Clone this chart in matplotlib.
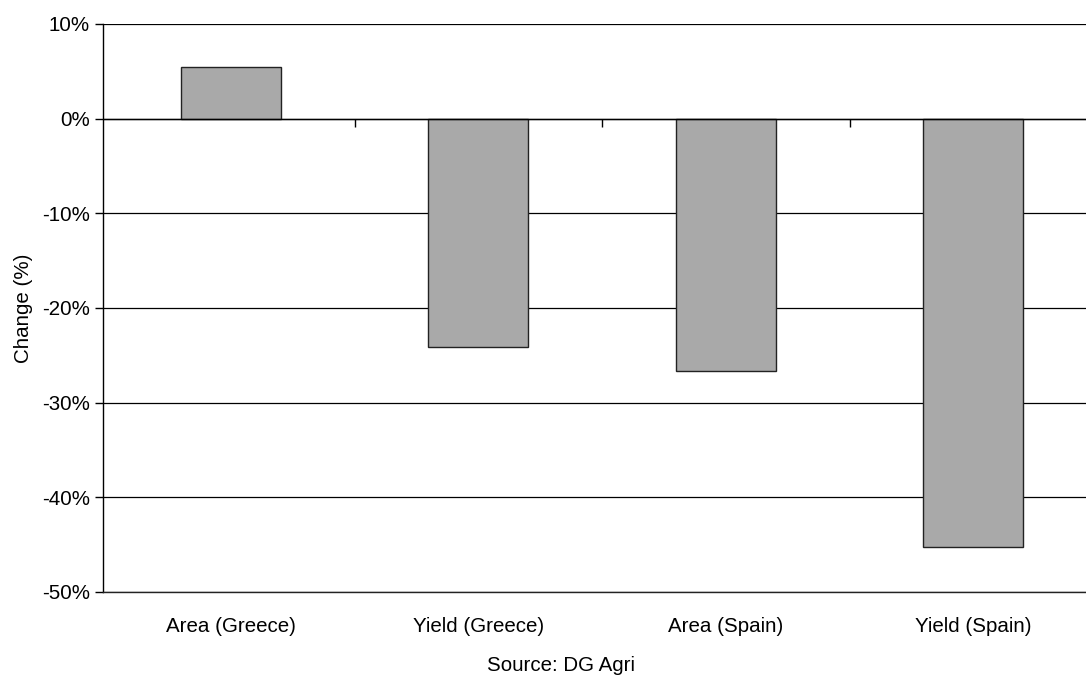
import matplotlib
matplotlib.use("Agg")
import matplotlib.pyplot as plt
from matplotlib.ticker import FuncFormatter

categories = ["Area (Greece)", "Yield (Greece)", "Area (Spain)", "Yield (Spain)"]
change_pct = [5.4, -24.1, -26.7, -45.3]
y_ticks = [10, 0, -10, -20, -30, -40, -50]

plt.rcParams["font.family"] = ["Liberation Sans", "DejaVu Sans"]
FS = 14.8

fig = plt.figure(figsize=(10.86, 6.75), dpi=100)
ax = fig.add_axes([0.0948, 0.123, 0.9052, 0.8416])

x = range(len(categories))
ax.bar(x, change_pct, width=0.404, color="#a9a9a9", edgecolor="#222222",
       linewidth=1.0, zorder=3)

# the category band runs on past the right edge of the canvas
ax.set_xlim(-0.517, 3.455)
ax.set_ylim(-50, 10)
ax.set_yticks(y_ticks)
ax.yaxis.set_major_formatter(FuncFormatter(lambda v, _: f"{v:.0f}%"))
ax.yaxis.grid(True, color="black", linewidth=0.9, zorder=1)

ax.set_xticks(list(x))
ax.set_xticklabels(categories)
ax.tick_params(axis="x", length=0, pad=18, labelsize=FS)
ax.tick_params(axis="y", length=6, width=1, direction="out", labelsize=FS, pad=3.5)

for side in ("top", "right"):
    ax.spines[side].set_visible(False)
ax.spines["left"].set_linewidth(1.0)
ax.spines["bottom"].set_linewidth(1.0)
ax.spines["bottom"].set_color("#222222")

# zero line with category separator ticks hanging below it
ax.axhline(0, color="black", linewidth=1.0, zorder=4)
sec = ax.secondary_xaxis(5 / 6)
sec.set_xticks([0.5, 1.5, 2.5])
sec.set_xticklabels([])
sec.tick_params(axis="x", length=6, width=1, direction="in")
sec.spines["bottom"].set_visible(False)
sec.spines["top"].set_visible(False)

ax.set_ylabel("Change (%)", fontsize=FS, labelpad=6.5)
ax.set_xlabel("Source: DG Agri", fontsize=FS)
ax.xaxis.set_label_coords(0.466, -0.113)

fig.savefig("out.png", dpi=100)
